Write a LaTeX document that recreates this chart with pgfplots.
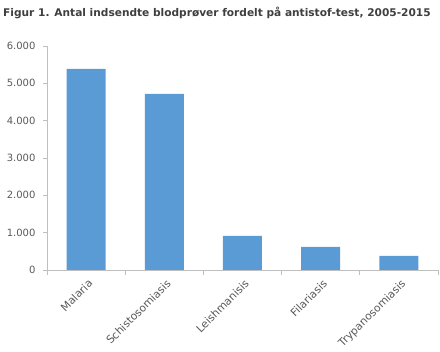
\documentclass[border=0pt]{standalone}
\usepackage{pgfplots}
\pgfplotsset{compat=1.18}
\usepackage{fontspec}
\setmainfont{DejaVu Sans}
\definecolor{barblue}{HTML}{5B9BD5}
\definecolor{axgray}{HTML}{BFBFBF}
\definecolor{txtgray}{HTML}{595959}
\definecolor{titlegray}{HTML}{3F3F3F}
\begin{document}
\begin{tikzpicture}[x=1pt,y=1pt]
\useasboundingbox (-47,-82) rectangle (393,270);
\node[anchor=base west, font=\bfseries\fontsize{10.6}{12}\selectfont, text=titlegray, inner sep=0pt] at (-44,253) {Figur 1. Antal indsendte blodprøver fordelt på antistof-test, 2005-2015};
\begin{axis}[
  at={(0,0)}, anchor=south west,
  scale only axis, width=391pt, height=224pt,
  xmin=-0.5, xmax=4.5, ymin=0, ymax=6000,
  axis x line*=bottom, axis y line*=left,
  axis line style={axgray, line width=0.8pt},
  tick align=outside,
  xtick={0,1,2,3,4},
  xticklabels={Malaria,Schistosomiasis,Leishmanisis,Filariasis,Trypanosomiasis},
  minor xtick={-0.5,0.5,1.5,2.5,3.5,4.5},
  x tick style={draw=none},
  minor x tick style={draw=axgray, line width=0.8pt},
  minor tick length=5pt,
  ytick={0,1000,...,6000},
  y tick style={draw=axgray, line width=0.8pt},
  major tick length=4pt,
  x tick label style={rotate=45, anchor=north east, font=\fontsize{10.8}{12}\selectfont, text=txtgray, inner sep=1pt, yshift=-3pt, xshift=-1pt},
  y tick label style={font=\fontsize{10}{12}\selectfont, text=txtgray, xshift=-4pt},
  yticklabel style={/pgf/number format/fixed, /pgf/number format/1000 sep={.}, /pgf/number format/assume math mode=true},
  ybar, bar width=39pt,
]
\addplot[fill=barblue, draw=none] coordinates {(0,5385) (1,4715) (2,911) (3,616) (4,375)};
\end{axis}
\end{tikzpicture}
\end{document}
